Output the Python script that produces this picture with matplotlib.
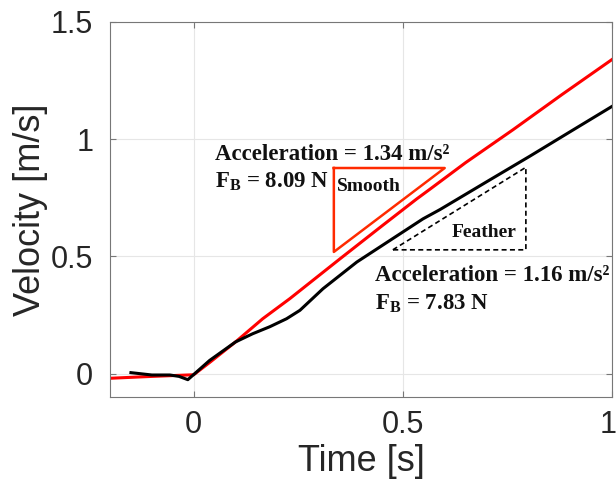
import matplotlib.pyplot as plt
from matplotlib.transforms import ScaledTranslation

plt.rcParams['font.family'] = 'Liberation Sans'
plt.rcParams['mathtext.fontset'] = 'custom'
plt.rcParams['mathtext.rm'] = 'Liberation Serif:bold'
plt.rcParams['mathtext.it'] = 'Liberation Serif:bold'
plt.rcParams['mathtext.bf'] = 'Liberation Serif:bold'

# smooth wing (red)
t_smooth = [-0.2, -0.1, 0.0, 0.04, 0.1, 0.165, 0.23, 0.35, 0.45, 0.533, 0.565, 0.65, 0.763, 0.88, 1.0]
v_smooth = [-0.02, -0.012, -0.005, 0.05, 0.135, 0.234, 0.32, 0.49, 0.63, 0.745, 0.787, 0.90, 1.04, 1.19, 1.34]

# feather wing (black)
t_feather = [-0.15, -0.1, -0.057, -0.035, -0.014, 0.0, 0.038, 0.1, 0.141, 0.182, 0.222, 0.254,
             0.309, 0.39, 0.548, 0.589, 0.7, 0.804, 0.9, 1.0]
v_feather = [0.004, -0.006, -0.006, -0.012, -0.026, -0.004, 0.056, 0.135, 0.17, 0.2, 0.234, 0.27,
             0.362, 0.476, 0.66, 0.70, 0.818, 0.928, 1.032, 1.14]

# slope triangles
tri_smooth_x = [0.335, 0.60, 0.335, 0.335]
tri_smooth_y = [0.877, 0.877, 0.519, 0.877]
tri_feather_x = [0.476, 0.794, 0.794, 0.476]
tri_feather_y = [0.528, 0.88, 0.528, 0.528]

fig = plt.figure(figsize=(6.16, 4.83), dpi=100)
ax = fig.add_axes([0.1786, 0.178, 0.815, 0.7765])

ax.plot(t_smooth, v_smooth, color='#ff0000', lw=2.2)
ax.plot(t_feather, v_feather, color='black', lw=2.2)
ax.plot(tri_smooth_x, tri_smooth_y, color='#ff2a00', lw=1.8)
ax.plot(tri_feather_x, tri_feather_y, color='black', lw=1.2, ls=(0, (3, 2)))

serif = dict(family='Liberation Serif', weight='bold', color='#111111', va='center')
ax.text(0.05, 0.936, 'Acceleration = 1.34 m/s²', fontsize=16.5, **serif)
ax.text(0.05, 0.817, r'$\mathrm{F_B}$ = 8.09 N', fontsize=16.5, **serif)
ax.text(0.342, 0.80, 'Smooth', fontsize=14, **serif)
ax.text(0.617, 0.60, 'Feather', fontsize=14, **serif)
ax.text(0.433, 0.42, 'Acceleration = 1.16 m/s²', fontsize=16.5, **serif)
ax.text(0.433, 0.298, r'$\mathrm{F_B}$ = 7.83 N', fontsize=16.5, **serif)

ax.set_xlim(-0.2, 1.0)
ax.set_ylim(-0.1, 1.5)
ax.set_xticks([0, 0.5, 1])
ax.set_xticklabels(['0', '0.5', '1'])
ax.set_yticks([0, 0.5, 1, 1.5])
ax.set_yticklabels(['0', '0.5', '1', '1.5'])
ax.grid(True, color='#e6e6e6', lw=0.8)
ax.set_axisbelow(True)
for s in ax.spines.values():
    s.set_color('#777777')
    s.set_linewidth(0.8)
ax.tick_params(direction='in', top=True, right=True, length=4, color='#777777',
               labelsize=22, labelcolor='#262626')
ax.tick_params(axis='y', pad=12)
ax.tick_params(axis='x', pad=9)
ax.set_xlabel('Time [s]', fontsize=26, color='#262626', labelpad=3)
ax.set_ylabel('Velocity [m/s]', fontsize=26, color='#262626', labelpad=2)

# keep the last x tick label inside the figure edge
last = ax.get_xticklabels()[-1]
last.set_transform(last.get_transform() + ScaledTranslation(-3 / 72, 0, fig.dpi_scale_trans))

fig.savefig('out.png', dpi=100)
